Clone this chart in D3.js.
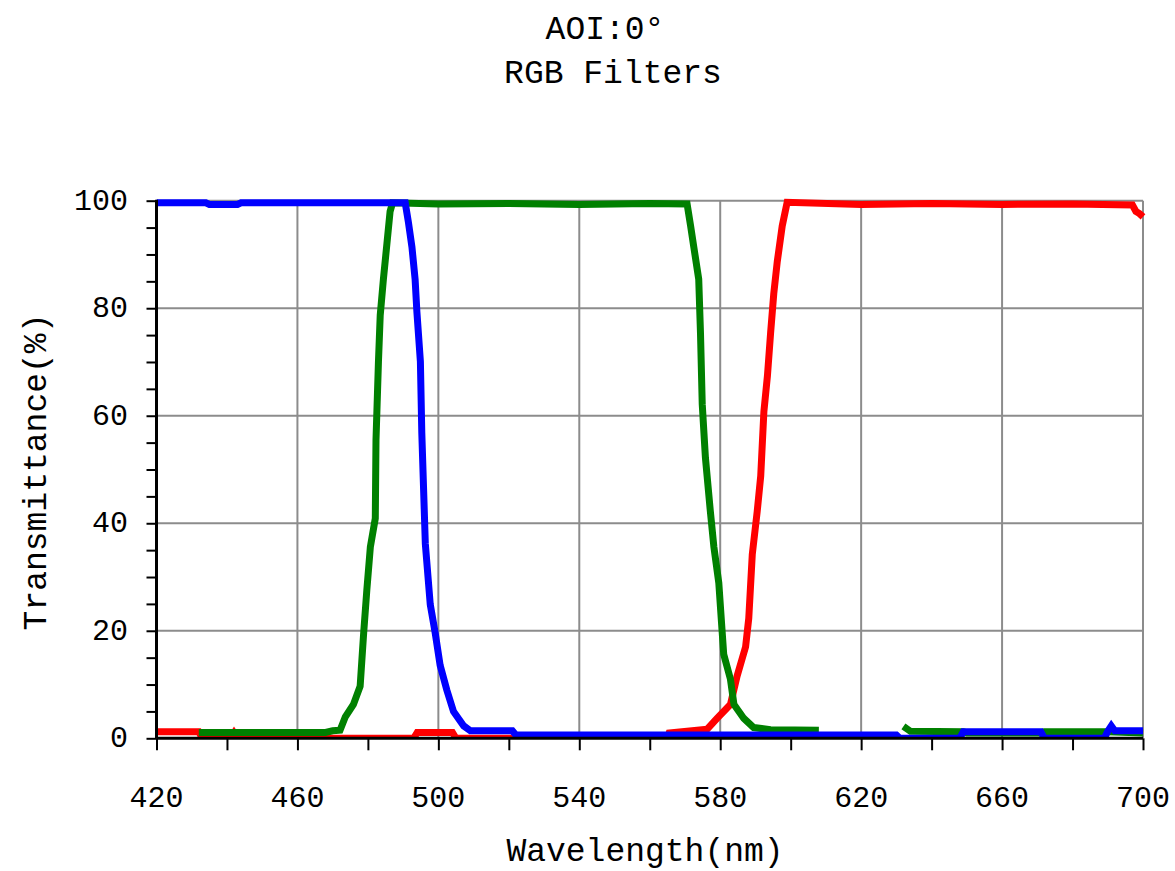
<html>

<head>
    <title>AOI:0° RGB Filters</title>
    <style>
        body {
            margin: 0;
            background: #fff;
        }

        text {
            font-family: "Liberation Mono", "DejaVu Sans Mono", monospace;
            fill: #000;
        }
    </style>
</head>

<body>
    <script src="https://cdn.jsdelivr.net/npm/d3@7/dist/d3.min.js" charset="utf-8"></script>
    <script type="text/javascript">
        // transmittance curves: [wavelength nm, T %]
        var red = [[420, 1.2], [432, 1.2], [433, 0], [441, 0], [442, 1.0], [443, 0], [493, 0], [494, 1.1], [504, 1.1],
        [505, 0], [565, 0], [565.5, 1.0], [576.3, 1.7], [579.1, 3.7], [582.9, 6.3], [584.8, 11.6], [587.2, 17.0],
        [588.1, 22.3], [589.1, 34.2], [590.5, 42.2], [591.5, 48.8], [592.4, 60.8], [593.4, 67.4], [594.3, 75.4],
        [595.2, 82.7], [596.2, 88.7], [597.6, 95.3], [599, 99.7], [620, 99.3], [640, 99.5], [660, 99.3],
        [680, 99.4], [697, 99.2], [698, 98.0], [699, 97.6], [700, 97.0]];

        var green = [[432, 1.1], [450, 1.1], [468, 1.1], [470, 1.4], [472.1, 1.5], [473.6, 4.0], [475.9, 6.3],
        [477.8, 9.7], [478.8, 19.6], [479.7, 27.6], [480.7, 35.6], [482.1, 40.9], [482.3, 55.5], [483.0, 70.1],
        [483.5, 78.7], [484.4, 85.4], [485.4, 92.0], [486.3, 98.0], [487, 99.6], [500, 99.4], [520, 99.5],
        [540, 99.3], [560, 99.5], [570.6, 99.4], [571.6, 95.3], [572.5, 91.4], [573.9, 85.4], [574.4, 75.4],
        [574.9, 62.1], [575.8, 52.2], [577.2, 42.2], [578.2, 35.6], [579.6, 28.9], [580.5, 20.3], [581.0, 15.6],
        [582.9, 11.0], [583.9, 6.3], [586.7, 3.7], [589.5, 2.0], [594.3, 1.6], [608, 1.5], [620, null],
        [632, 2.2], [634, 1.3], [649, 1.2], [650, 1.0], [671, 1.0], [672, 1.2], [690, 1.2], [700, 1.0]];

        var blue = [[420, 99.6], [434, 99.6], [435, 99.3], [443, 99.3], [444, 99.6], [490.6, 99.6], [491.5, 96],
        [492.5, 91.4], [493.4, 85.4], [493.9, 79.4], [494.9, 70.1], [495.3, 56.8], [496.3, 36.2], [497.7, 24.9],
        [499.1, 19.6], [500.5, 13.6], [502.4, 9.0], [504.3, 5.0], [507.2, 2.3], [509.1, 1.4], [521, 1.4],
        [522, 0.6], [630, 0.6], [631, 0], [648, 0], [649, 1.2], [671, 1.2], [672, 0], [689, 0], [690, 1.3],
        [691, 2.3], [692, 1.4], [700, 1.4]];

        var series = [{ name: "R", color: "#ff0000", values: red },
        { name: "G", color: "#008000", values: green },
        { name: "B", color: "#0000ff", values: blue }];

        var xTicks = [420, 460, 500, 540, 580, 620, 660, 700];
        var yTicks = [0, 20, 40, 60, 80, 100];
        var titleLines = ["AOI:0°", "RGB Filters"];

        var width = 1175;
        var height = 871;
        // plot box in pixels (note: "top" is reserved on window)
        var pLeft = 156.5, pRight = 1143, pTop = 200.7, pBottom = 738.3;

        var svg = d3.select("body")
            .append("svg")
            .attr("width", width)
            .attr("height", height);

        var x = d3.scaleLinear().domain([420, 700]).range([pLeft, pRight]);
        var y = d3.scaleLinear().domain([0, 100]).range([pBottom, pTop]);

        // grid
        svg.append("g")
            .selectAll("line")
            .data(xTicks.slice(1))
            .enter()
            .append("line")
            .attr("x1", d => x(d)).attr("x2", d => x(d))
            .attr("y1", pTop).attr("y2", pBottom)
            .style("stroke", "#8c8c8c")
            .style("stroke-width", 2);

        svg.append("g")
            .selectAll("line")
            .data(yTicks.slice(1))
            .enter()
            .append("line")
            .attr("x1", pLeft).attr("x2", pRight)
            .attr("y1", d => y(d)).attr("y2", d => y(d))
            .style("stroke", "#8c8c8c")
            .style("stroke-width", 2);

        // curves, clipped at the x axis
        svg.append("clipPath")
            .attr("id", "plotclip")
            .append("rect")
            .attr("x", pLeft).attr("y", 0)
            .attr("width", pRight - pLeft + 4)
            .attr("height", pBottom);

        var line = d3.line()
            .defined(d => d[1] != null)
            .x(d => x(d[0]))
            .y(d => y(d[1]));

        svg.append("g")
            .attr("clip-path", "url(#plotclip)")
            .selectAll("path")
            .data(series)
            .enter()
            .append("path")
            .attr("d", d => line(d.values))
            .style("fill", "none")
            .style("stroke", d => d.color)
            .style("stroke-width", 7);

        // axes
        var xAxis = d3.axisBottom(x)
            .tickValues(d3.range(420, 701, 20))
            .tickSize(12)
            .tickFormat("");
        var gx = svg.append("g")
            .attr("transform", "translate(0," + pBottom + ")")
            .call(xAxis);
        gx.select(".domain").attr("d", "M" + pLeft + ",0H" + pRight);

        var yAxis = d3.axisLeft(y)
            .tickValues(d3.range(0, 101, 5))
            .tickSize(10)
            .tickFormat("");
        var gy = svg.append("g")
            .attr("transform", "translate(" + pLeft + ",0)")
            .call(yAxis);
        gy.select(".domain").attr("d", "M0," + (pTop - 1) + "V" + pBottom);

        svg.selectAll(".domain").style("stroke", "#000").style("stroke-width", 3);
        svg.selectAll(".tick line").style("stroke", "#000").style("stroke-width", 2);

        svg.append("g")
            .selectAll("text")
            .data(xTicks)
            .enter()
            .append("text")
            .attr("x", d => x(d))
            .attr("y", 807)
            .attr("text-anchor", "middle")
            .style("font-size", "30px")
            .text(d => d);

        svg.append("g")
            .selectAll("text")
            .data(yTicks)
            .enter()
            .append("text")
            .attr("x", 128)
            .attr("y", d => y(d))
            .attr("dy", "0.3em")
            .attr("text-anchor", "end")
            .style("font-size", "30px")
            .text(d => d);

        // titles
        svg.append("text")
            .attr("x", 605).attr("y", 39)
            .attr("text-anchor", "middle")
            .style("font-size", "33px")
            .text(titleLines[0]);
        svg.append("text")
            .attr("x", 613).attr("y", 83)
            .attr("text-anchor", "middle")
            .style("font-size", "33px")
            .text(titleLines[1]);

        svg.append("text")
            .attr("x", 645).attr("y", 861)
            .attr("text-anchor", "middle")
            .style("font-size", "33px")
            .text("Wavelength(nm)");

        svg.append("text")
            .attr("transform", "translate(46,472) rotate(-90)")
            .attr("text-anchor", "middle")
            .style("font-size", "33px")
            .text("Transmittance(%)");
    </script>

</body>

</html>
